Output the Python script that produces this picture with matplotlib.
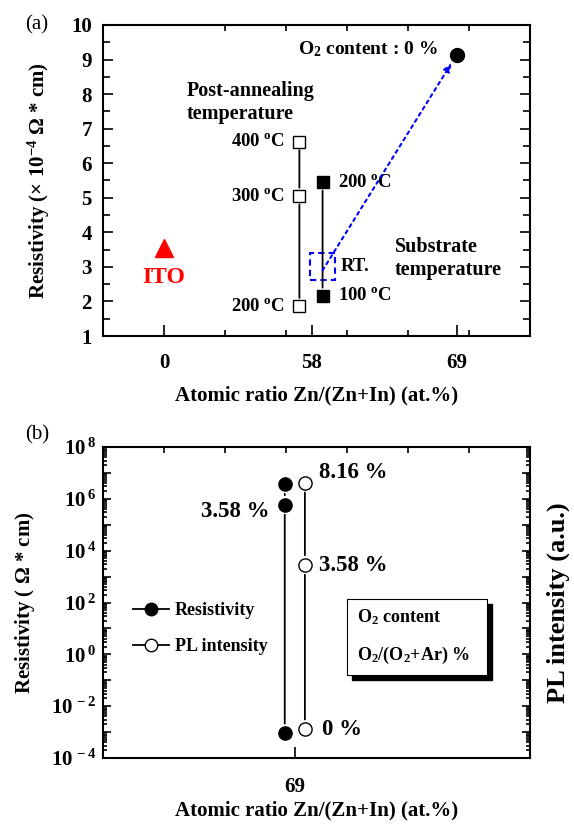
import numpy as np
import matplotlib
matplotlib.use('Agg')
import matplotlib.pyplot as plt
from matplotlib.lines import Line2D
from matplotlib.patches import Rectangle
from matplotlib.ticker import FixedLocator, LogLocator, FuncFormatter, MultipleLocator, NullFormatter

# ---------------- datos ----------------
# (a) resistividad (x 10^-4 ohm cm)
etiquetas_a = ['0', '58', '69']
ito_res = 3.55
anneal_temps = ['200 $^{o}$C', '300 $^{o}$C', '400 $^{o}$C']
anneal_res = [1.86, 5.05, 6.62]
sub_temps = ['100 $^{o}$C', 'RT.', '200 $^{o}$C']
sub_res = [2.16, 3.0, 5.45]
o2_cero_res = 9.14

# (b) resistividad y PL vs contenido de O2
etiquetas_b = ['69']
o2_contenido = ['0 %', '3.58 %', '8.16 %']
res_b = [9e-4, 5.8e5, 3.7e6]
pl_b = [1.3e-3, 2.8e3, 4.2e6]

# ---------------- estilo ----------------
plt.rcParams['font.family'] = ['Liberation Serif', 'DejaVu Serif']
plt.rcParams['font.weight'] = 'bold'
plt.rcParams['axes.labelweight'] = 'bold'
plt.rcParams['mathtext.fontset'] = 'custom'
plt.rcParams['mathtext.rm'] = 'Liberation Serif:bold'
plt.rcParams['mathtext.bf'] = 'Liberation Serif:bold'
plt.rcParams['mathtext.it'] = 'Liberation Serif:bold'
plt.rcParams['mathtext.default'] = 'rm'
plt.rcParams['axes.linewidth'] = 1.5

FS = 15
pos_a = [1.0, 3.42, 5.8]
dx_abierto, dx_lleno = -0.2, 0.18


def linea_con_huecos(ax, xs, ys, hueco=6):
    for i in range(len(xs) - 1):
        ax.annotate('', xy=(xs[i + 1], ys[i + 1]), xytext=(xs[i], ys[i]),
                    arrowprops=dict(arrowstyle='-', lw=1.3, color='k',
                                    shrinkA=hueco, shrinkB=hueco))


fig = plt.figure(figsize=(5.74, 8.24), dpi=100)

# ================= (a) =================
ax1 = fig.add_axes([0.1794, 0.5922, 0.7439, 0.3775])
ax1.set_xlim(0, 7)
ax1.set_ylim(1, 10)

ax1.plot(pos_a[0], ito_res, '^', color='red', ms=13, mec='red')
ax1.annotate('ITO', (pos_a[0], ito_res), xytext=(0, -21), textcoords='offset points',
             ha='center', va='center', color='red', fontsize=17)

x_ab = pos_a[1] + dx_abierto
x_ll = pos_a[1] + dx_lleno
linea_con_huecos(ax1, [x_ab] * 3, anneal_res[::-1])
ax1.plot([x_ab] * 3, anneal_res, 's', ms=8, mfc='white', mec='k', mew=1.0)
for t, r in zip(anneal_temps, anneal_res):
    ax1.annotate(t, (x_ab, r), xytext=(-10, 0), textcoords='offset points',
                 ha='right', va='center', fontsize=13.5)

linea_con_huecos(ax1, [x_ll, x_ll], [sub_res[2], sub_res[0]])
ax1.plot([x_ll, x_ll], [sub_res[0], sub_res[2]], 's', ms=8, color='k')
for t, r in zip(sub_temps, sub_res):
    dxo = 13 if t == 'RT.' else 11
    ax1.annotate(t, (x_ll, r), xytext=(dxo, 0), textcoords='offset points',
                 ha='left', va='center', fontsize=13.5)

# recuadro RT
ax1.add_patch(Rectangle((x_ll - 0.21, sub_res[1] - 0.39), 0.42, 0.78, fill=False,
                        ec='#0000ff', lw=1.5, ls=(0, (3, 2))))

ax1.plot(pos_a[2], o2_cero_res, 'o', color='k', ms=10)
ax1.annotate('', xy=(pos_a[2], o2_cero_res), xytext=(x_ll, sub_res[1] - 0.1),
             arrowprops=dict(arrowstyle='-|>,head_length=0.5,head_width=0.2', color='#0000ff',
                             lw=1.5, ls=(0, (1.5, 2)), shrinkA=0, shrinkB=7))
ax1.annotate('O$_2$ content : 0 %', (pos_a[2], o2_cero_res), xytext=(-14, 4),
             textcoords='offset points', ha='right', va='center', fontsize=14)

ax1.text(1.38, 7.76, 'Post-annealing\ntemperature', ha='left', va='center',
         fontsize=14.5, linespacing=1.25)
ax1.text(4.79, 3.23, 'Substrate\ntemperature', ha='left', va='center',
         fontsize=14.5, linespacing=1.2)

ax1.xaxis.set_major_locator(FixedLocator(pos_a))
ax1.set_xticklabels(etiquetas_a)
ax1.xaxis.set_minor_locator(FixedLocator([1, 2, 3, 4, 5, 6]))
ax1.yaxis.set_major_locator(MultipleLocator(1))
ax1.yaxis.set_minor_locator(MultipleLocator(0.5))
ax1.tick_params(which='both', direction='in', right=True, labelsize=FS, width=1.2)
ax1.tick_params(axis='x', which='major', length=8, pad=12)
ax1.tick_params(axis='x', which='minor', length=4, top=True)
ax1.tick_params(axis='y', which='major', length=7, pad=8)
ax1.tick_params(axis='y', which='minor', length=5)
ax1.set_xlabel('Atomic ratio Zn/(Zn+In) (at.%)', fontsize=FS, labelpad=9)
ax1.set_ylabel('Resistivity (× 10$^{-4}$ $\\Omega$ * cm)', fontsize=FS, labelpad=14)
fig.text(0.064, 0.97, '(a)', fontsize=15, fontweight='normal', ha='center', va='center')

# ================= (b) =================
ax2 = fig.add_axes([0.1794, 0.0801, 0.7439, 0.3774])
ax2.set_xlim(0, 7)
ax2.set_yscale('log')
ax2.set_ylim(1e-4, 1e8)

pos_b = 3.15
xr = pos_b - 0.17
xp = pos_b + 0.16
linea_con_huecos(ax2, [xr] * 3, res_b, hueco=7)
linea_con_huecos(ax2, [xp] * 3, pl_b, hueco=7)
ax2.plot([xr] * 3, res_b, 'o', color='k', ms=9.5)
ax2.plot([xp] * 3, pl_b, 'o', mfc='white', mec='k', ms=9.5, mew=1.0)

ax2.annotate(o2_contenido[2], (xp, pl_b[2]), xytext=(10, 7), textcoords='offset points',
             ha='left', va='center', fontsize=16.5)
ax2.annotate(o2_contenido[1], (xr, res_b[1]), xytext=(-11, -5), textcoords='offset points',
             ha='right', va='center', fontsize=16.5)
ax2.annotate(o2_contenido[1], (xp, pl_b[1]), xytext=(10, 0), textcoords='offset points',
             ha='left', va='center', fontsize=16.5)
ax2.annotate(o2_contenido[0], (xp, pl_b[0]), xytext=(12, 0), textcoords='offset points',
             ha='left', va='center', fontsize=16.5)

handles = [Line2D([], [], color='k', lw=1.3, marker='o', ms=9, mfc='k', mec='k'),
           Line2D([], [], color='k', lw=1.3, marker='o', ms=9, mfc='white', mec='k')]
ax2.legend(handles, ['Resistivity', 'PL intensity'], loc='upper left',
           bbox_to_anchor=(0.05, 0.53), frameon=False, fontsize=13,
           handlelength=2.0, handletextpad=0.3, labelspacing=1.05, borderpad=0)

# cuadro con sombra
bx0, by0, bw, bh = 0.571, 0.267, 0.328, 0.244
ax2.add_patch(Rectangle((bx0 + 0.012, by0 - 0.017), bw, bh, transform=ax2.transAxes,
                        fc='k', ec='k', zorder=4))
ax2.add_patch(Rectangle((bx0, by0), bw, bh, transform=ax2.transAxes,
                        fc='white', ec='k', lw=0.8, zorder=5))
ax2.text(bx0 + 0.025, 0.453, 'O$_2$ content', transform=ax2.transAxes,
         ha='left', va='center', fontsize=13, zorder=6)
ax2.text(bx0 + 0.025, 0.331, 'O$_2$/(O$_2$+Ar) %', transform=ax2.transAxes,
         ha='left', va='center', fontsize=13, zorder=6)

ax2.xaxis.set_major_locator(FixedLocator([pos_b]))
ax2.set_xticklabels(etiquetas_b)
ax2.xaxis.set_minor_locator(FixedLocator([1, 2, 3, 4, 5, 6]))
ax2.yaxis.set_major_locator(LogLocator(base=10, numticks=100))
ax2.yaxis.set_minor_locator(LogLocator(base=10, subs=np.arange(2, 10) * 1.0, numticks=100))
ax2.yaxis.set_minor_formatter(NullFormatter())


def fmt_log(v, p):
    e = int(round(np.log10(v)))
    if e % 2:
        return ''
    return '10$^{\\,%d}$' % e


ax2.yaxis.set_major_formatter(FuncFormatter(fmt_log))
ax2.tick_params(which='both', direction='in', right=True, labelsize=FS, width=1.2)
ax2.tick_params(axis='x', which='major', length=8, pad=14)
ax2.tick_params(axis='x', which='minor', length=4, top=True, bottom=False)
ax2.tick_params(axis='y', which='major', length=6, pad=5)
ax2.tick_params(axis='y', which='minor', length=3)
ax2.set_xlabel('Atomic ratio Zn/(Zn+In) (at.%)', fontsize=FS, labelpad=2)
ax2.set_ylabel('Resistivity ( $\\Omega$ * cm)', fontsize=FS, labelpad=10)
ax2.text(1.066, 0.5, 'PL intensity (a.u.)', transform=ax2.transAxes, rotation=90,
         ha='center', va='center', fontsize=19)
fig.text(0.064, 0.472, '(b)', fontsize=15, fontweight='normal', ha='center', va='center')

fig.savefig('out.png', dpi=100)
